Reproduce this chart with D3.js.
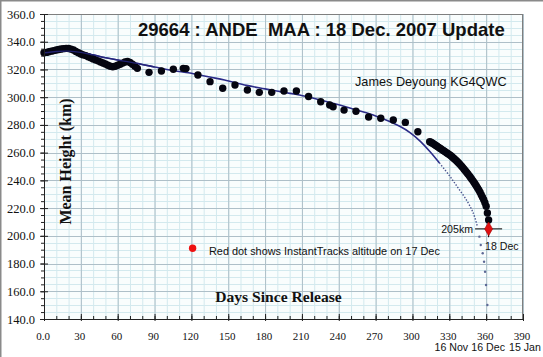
<!DOCTYPE html>
<html><head><meta charset="utf-8">
<script src="https://cdn.jsdelivr.net/npm/d3@7"></script>
<style>body{margin:0;background:#fff;} svg{display:block}</style>
</head><body><svg id="c" width="543" height="357"></svg>
<script>
// ---- data ----
const earlyDays    = [0,2,4,6,8,10,12,14,16,18,20,22,24,26,28,30,32,34,36,38,40,42,44,46,48,50,52,54,56,58,60,62,64,66,68,70,72,74,76];
const earlyHeights = [332.0,332.3,332.8,333.2,333.6,334.0,334.4,334.8,335.0,335.2,335.1,334.7,334.0,333.0,332.1,331.2,330.5,330.0,329.2,328.4,327.6,326.9,326.2,325.4,324.7,323.9,323.0,322.3,322.0,322.3,323.0,323.8,324.6,325.4,325.8,325.0,323.8,322.4,320.8];

const midDays    = [85.5,95.6,105.3,113.4,115.6,125.3,135.2,145.5,155.5,165.6,175.3,185.4,195.4,205.5,215.4,225.3,232.6,235.4,244.3,254.0,264.3,274.2,284.4,294.2,304.4];
const midHeights = [317.9,318.9,320.1,320.8,320.6,316.0,311.2,306.4,308.8,305.2,303.5,303.5,304.5,304.5,300.5,296.7,294.4,293.1,290.7,289.8,285.7,284.8,283.5,281.8,275.1];

const lateDays    = [314,315,316,317,318,319,320,321,322,323,324,325,326,327,328,329,330,331,332,333,334,335,336,337,338,339,340,341,342,343,344,345,346,347,348,349,350,351,352,353,354,355,356,357,358,359,360,361,362];
const lateHeights = [267.9,267.5,267.0,266.4,265.8,265.2,264.6,264.0,263.4,262.8,262.2,261.6,261.0,260.4,259.8,259.2,258.6,257.9,257.2,256.4,255.6,254.8,254.0,253.1,252.2,251.2,250.2,249.2,248.1,247.0,245.9,244.8,243.6,242.4,241.2,240.0,238.7,237.4,236.0,234.5,233.0,231.4,229.7,227.9,226.0,223.8,221.3,216.5,211.5];

// fitted decay curve (solid part, dotted part, sparse tail)
const fitDays    = [0,10,20,30,40,50,60,70,80,90,100,110,120,135,147,165,180,195,208,225,240,255,270,280,290,298,306,314,322];
const fitHeights = [332.0,333.0,333.2,332.3,330.5,328.5,326.8,325.3,323.6,321.8,320.0,318.5,317.2,314.5,312.4,308.5,306.0,303.5,301.6,298.0,294.5,290.6,286.5,283.0,278.8,274.5,268.5,261.0,252.5];
const fitDotDays    = [322,330,336,344,349.6,352.9];
const fitDotHeights = [252.5,243.5,236.0,225.8,216.2,206.6];
const tailDays    = [354.5,355.6,357.2,358.3,359.1,359.9,361.0];
const tailHeights = [199.4,193.4,187.4,181.3,174.1,164.5,150.1];

// InstantTracks point and legend dot
const itDay = 362, itHeight = 205, itDayErr = 11, itHeightErr = 6;
const legendDotDay = 121, legendDotHeight = 191;

// axes
const xTickValues = [0,30,60,90,120,150,180,210,240,270,300,330,360,390];
const xTickLabels = ["0.0","30","60","90","120","150","180","210","240","270","300","330","360","390"];
const dateTickValues = [330,360,390];
const dateTickLabels = ["16 Nov","16 Dec","15 Jan"];
const yTickValues = [140,160,180,200,220,240,260,280,300,320,340,360];

// ---- drawing ----
const svg = d3.select("#c");
const L=44, R=523, T=14, B=319;
const x = d3.scaleLinear().domain([0,390]).range([L,R]);
const y = d3.scaleLinear().domain([140,360]).range([B,T]);

svg.append("rect").attr("x",0).attr("y",0).attr("width",543).attr("height",357).attr("fill","#fff");
svg.append("line").attr("x1",0.75).attr("x2",0.75).attr("y1",0).attr("y2",357).attr("stroke","#8a8a8a").attr("stroke-width",1.5);
svg.append("line").attr("x1",0).attr("x2",543).attr("y1",0.75).attr("y2",0.75).attr("stroke","#8a8a8a").attr("stroke-width",1.5);

svg.append("rect").attr("x",L).attr("y",T).attr("width",R-L).attr("height",B-T).attr("fill","#f9fdfd");

const grid = svg.append("g");
grid.selectAll(".vmin").data(d3.range(0,391,10)).join("line")
  .attr("x1",d=>x(d)+0.5).attr("x2",d=>x(d)+0.5).attr("y1",T).attr("y2",B)
  .attr("stroke","#d3e9ee").attr("stroke-width",1);
grid.selectAll(".hmin").data(d3.range(140,361,5)).join("line")
  .attr("y1",d=>Math.round(y(d))+0.5).attr("y2",d=>Math.round(y(d))+0.5).attr("x1",L).attr("x2",R)
  .attr("stroke","#d3e9ee").attr("stroke-width",1);
grid.selectAll(".vmaj").data(d3.range(30,391,30)).join("line")
  .attr("x1",d=>x(d)+0.5).attr("x2",d=>x(d)+0.5).attr("y1",T).attr("y2",B)
  .attr("stroke","#aebfc8").attr("stroke-width",1);
grid.selectAll(".hmaj").data(d3.range(160,361,20)).join("line")
  .attr("y1",d=>Math.round(y(d))+0.5).attr("y2",d=>Math.round(y(d))+0.5).attr("x1",L).attr("x2",R)
  .attr("stroke","#aebfc8").attr("stroke-width",1);

svg.append("rect").attr("x",L+0.5).attr("y",T+0.5).attr("width",R-L-1).attr("height",B-T)
  .attr("fill","none").attr("stroke","#7f7f7f").attr("stroke-width",1);

// fit curve
const line = d3.line().x(d=>x(d[0])).y(d=>y(d[1])).curve(d3.curveCatmullRom);
svg.append("path").datum(fitDays.map((d,i)=>[d,fitHeights[i]]))
  .attr("d",line).attr("fill","none").attr("stroke","#2b2b88").attr("stroke-width",1.6);
svg.append("path").datum(fitDotDays.map((d,i)=>[d,fitDotHeights[i]]))
  .attr("d",line).attr("fill","none").attr("stroke","#4a558f")
  .attr("stroke-width",1.4).attr("stroke-dasharray","1.4,1.6");
svg.selectAll(".tail").data(tailDays.map((d,i)=>[d,tailHeights[i]])).join("circle")
  .attr("cx",d=>x(d[0])).attr("cy",d=>y(d[1])).attr("r",1.2).attr("fill","#5d6895");

// observed points
const obs = [];
earlyDays.forEach((d,i)=>obs.push([d,earlyHeights[i]]));
midDays.forEach((d,i)=>obs.push([d,midHeights[i]]));
lateDays.forEach((d,i)=>obs.push([d,lateHeights[i]]));
svg.selectAll(".obs").data(obs).join("circle")
  .attr("cx",d=>x(d[0])).attr("cy",d=>y(d[1])).attr("r",3.7).attr("fill","#050510");

// fit line overlay on early band
svg.append("path").datum(fitDays.filter(d=>d<=90).map((d,i)=>[d,fitHeights[i]]))
  .attr("d",line).attr("fill","none").attr("stroke","#25257a").attr("stroke-width",1.4).attr("opacity",0.9);

// InstantTracks point with error bars
const ix = x(itDay), iy = y(itHeight);
svg.append("line").attr("x1",x(itDay-itDayErr)).attr("x2",x(itDay+itDayErr)).attr("y1",iy).attr("y2",iy).attr("stroke","#000").attr("stroke-width",1);
svg.append("line").attr("x1",ix).attr("x2",ix).attr("y1",y(itHeight+itHeightErr)).attr("y2",y(itHeight-itHeightErr)).attr("stroke","#000").attr("stroke-width",1);
svg.append("path").attr("d",d3.symbol(d3.symbolDiamond, 55)())
  .attr("transform",`translate(${ix},${iy})`).attr("fill","#e01010").attr("stroke","#a00000").attr("stroke-width",0.6);
svg.append("circle").attr("cx",x(legendDotDay)).attr("cy",y(legendDotHeight)).attr("r",3.7).attr("fill","#ee1111");

// axes
const serif = "'Liberation Serif','Times New Roman',serif";
const sans = "'Liberation Sans',Arial,sans-serif";
const yAxisMinor = svg.append("g").attr("transform",`translate(${L},0)`)
  .call(d3.axisLeft(y).tickValues(d3.range(140,361,5)).tickSize(3).tickSizeOuter(0).tickFormat(""));
yAxisMinor.select(".domain").remove();
const yAxis = svg.append("g").attr("transform",`translate(${L},0)`)
  .call(d3.axisLeft(y).tickValues(yTickValues).tickSize(4).tickSizeOuter(0).tickPadding(5).tickFormat(d3.format(".1f")));
yAxis.selectAll(".tick line").attr("x1",4);
yAxis.selectAll("text").attr("font-family",serif).attr("font-size",12.5).attr("fill","#111");

const xAxisMinor = svg.append("g").attr("transform",`translate(0,${B})`)
  .call(d3.axisBottom(x).tickValues(d3.range(0,391,10)).tickSize(-3).tickSizeOuter(0).tickFormat(""));
xAxisMinor.select(".domain").remove();
const xAxis = svg.append("g").attr("transform",`translate(0,${B})`)
  .call(d3.axisBottom(x).tickValues(xTickValues).tickSize(-5).tickSizeOuter(0).tickPadding(13)
    .tickFormat((d,i)=>xTickLabels[i]));
xAxis.selectAll(".tick line").attr("y2",-5).attr("y1",2);
xAxis.selectAll("text").attr("font-family",serif).attr("font-size",11).attr("fill","#111").attr("dx",-1.5);
svg.selectAll(".domain").attr("stroke","#222");
svg.selectAll(".tick line").attr("stroke","#222");

const dateAxis = svg.append("g").attr("transform",`translate(0,${B})`)
  .call(d3.axisBottom(x).tickValues(dateTickValues).tickSize(0).tickPadding(24)
    .tickFormat((d,i)=>dateTickLabels[i]));
dateAxis.select(".domain").remove();
dateAxis.selectAll("text").attr("font-family",sans).attr("font-size",10.6).attr("fill","#111").attr("dx",1.5);

// titles and annotations
svg.append("text").attr("x",138).attr("y",36).attr("font-family",sans).attr("font-weight","bold")
  .attr("font-size",18.5).attr("fill","#111").style("white-space","pre")
  .text("29664 : ANDE  MAA : 18 Dec. 2007 Update");
svg.append("text").attr("x",355).attr("y",86).attr("font-family",sans).attr("font-size",12.7).attr("fill","#111")
  .text("James Deyoung KG4QWC");
svg.append("text").attr("transform","translate(71,161.5) rotate(-90)").attr("text-anchor","middle")
  .attr("font-family",serif).attr("font-weight","bold").attr("font-size",16).attr("fill","#111")
  .text("Mean Height (km)");
svg.append("text").attr("x",278.5).attr("y",301.5).attr("text-anchor","middle")
  .attr("font-family",serif).attr("font-weight","bold").attr("font-size",15.6).attr("fill","#111")
  .text("Days Since Release");
svg.append("text").attr("x",209).attr("y",254.5).attr("font-family",sans).attr("font-size",10.9).attr("fill","#111")
  .text("Red dot shows InstantTracks altitude on 17 Dec");
svg.append("text").attr("x",473).attr("y",233).attr("text-anchor","end").attr("font-family",sans).attr("font-size",10.6).attr("fill","#111")
  .text("205km");
svg.append("text").attr("x",485).attr("y",250).attr("font-family",sans).attr("font-size",10.6).attr("fill","#111")
  .text("18 Dec");
</script>
</body></html>
